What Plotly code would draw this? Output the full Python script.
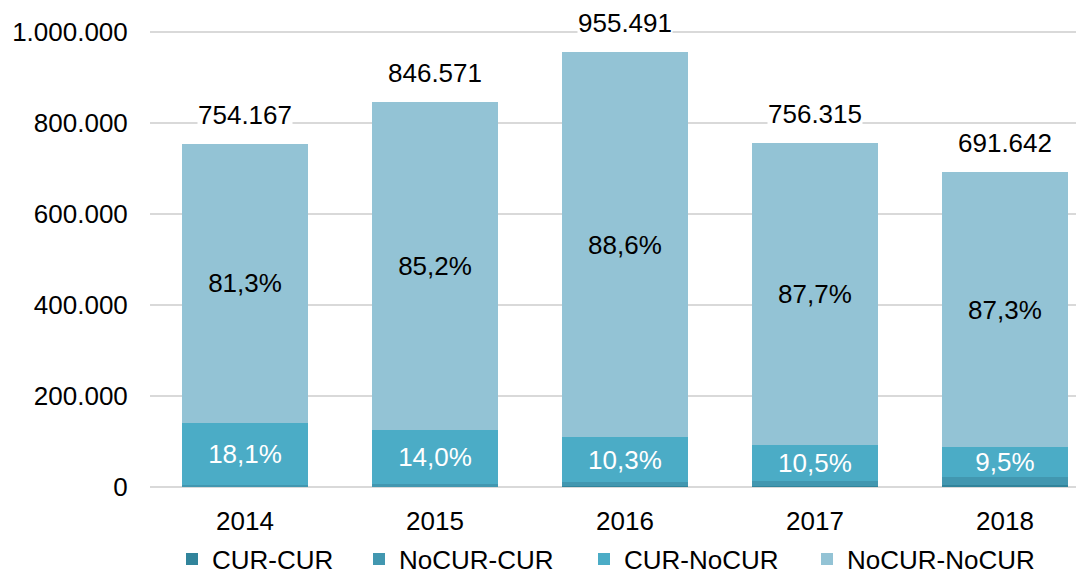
import plotly.graph_objects as go

years = ["2014", "2015", "2016", "2017", "2018"]
totals = [754167, 846571, 955491, 756315, 691642]
# shares in percent of each year's total
pct_cur_cur = [0.1, 0.1, 0.2, 0.3, 0.5]
pct_nocur_cur = [0.5, 0.7, 0.9, 1.5, 2.7]
pct_cur_nocur = [18.1, 14.0, 10.3, 10.5, 9.5]
pct_nocur_nocur = [81.3, 85.2, 88.6, 87.7, 87.3]

series = [
    ("CUR-CUR", pct_cur_cur, "#31849B", False, "#FFFFFF"),
    ("NoCUR-CUR", pct_nocur_cur, "#4297B0", False, "#FFFFFF"),
    ("CUR-NoCUR", pct_cur_nocur, "#4BACC6", True, "#FFFFFF"),
    ("NoCUR-NoCUR", pct_nocur_nocur, "#93C3D5", True, "#000000"),
]

FONT = "Liberation Sans, Arial, sans-serif"
W, H = 1076, 568
xs = list(range(len(years)))
# left edge (px) of each legend entry
legend_left = [164, 351, 576, 799]
legend_names = ["legend", "legend2", "legend3", "legend4"]

fig = go.Figure()
for (name, pcts, color, labelled, tcolor), lg in zip(series, legend_names):
    vals = [t * p / 100 for t, p in zip(totals, pcts)]
    texts = [f"{p:.1f}%".replace(".", ",") if labelled else "" for p in pcts]
    fig.add_trace(go.Bar(
        x=xs, y=vals, name=name, width=0.663, legend=lg,
        marker=dict(color=color, line=dict(width=0)),
        text=texts, textposition="inside", insidetextanchor="middle",
        constraintext="none", textangle=0,
        textfont=dict(family=FONT, size=26, color=tcolor),
        hoverinfo="skip",
    ))

for x, t in zip(xs, totals):
    fig.add_annotation(
        x=x, y=t, text=f"{t:,}".replace(",", "."), showarrow=False,
        yanchor="middle", yshift=29, bgcolor="#FFFFFF", borderpad=0,
        font=dict(family=FONT, size=26, color="#000000"),
    )

legend_style = dict(
    orientation="h", xref="container", yref="container",
    xanchor="left", y=0.0299, yanchor="middle",
    font=dict(family=FONT, size=26, color="#000000"),
    bgcolor="rgba(0,0,0,0)",
)
legends = {}
for lg, lx in zip(legend_names, legend_left):
    legends[lg] = dict(legend_style, x=lx / W)

fig.update_layout(
    barmode="stack",
    width=W, height=H,
    margin=dict(l=142, r=0, t=0, b=89),
    paper_bgcolor="#FFFFFF", plot_bgcolor="#FFFFFF",
    separators=",.",
    font=dict(family=FONT, size=26, color="#000000"),
    showlegend=True,
    xaxis=dict(
        range=[-0.5, 4.416], tickvals=xs, ticktext=years,
        showgrid=False, zeroline=False, showline=False,
        ticks="outside", ticklen=11, tickcolor="rgba(0,0,0,0)",
        tickfont=dict(family=FONT, size=26, color="#000000"),
    ),
    yaxis=dict(
        range=[0, 1052700], tickvals=[0, 200000, 400000, 600000, 800000, 1000000],
        tickformat=",d", showgrid=True, gridcolor="#D9D9D9", gridwidth=2,
        zeroline=True, zerolinecolor="#D9D9D9", zerolinewidth=2, showline=False,
        ticks="outside", ticklen=16, tickcolor="rgba(0,0,0,0)",
        tickfont=dict(family=FONT, size=26, color="#000000"),
    ),
    **legends,
)

fig.write_html("out.html")
